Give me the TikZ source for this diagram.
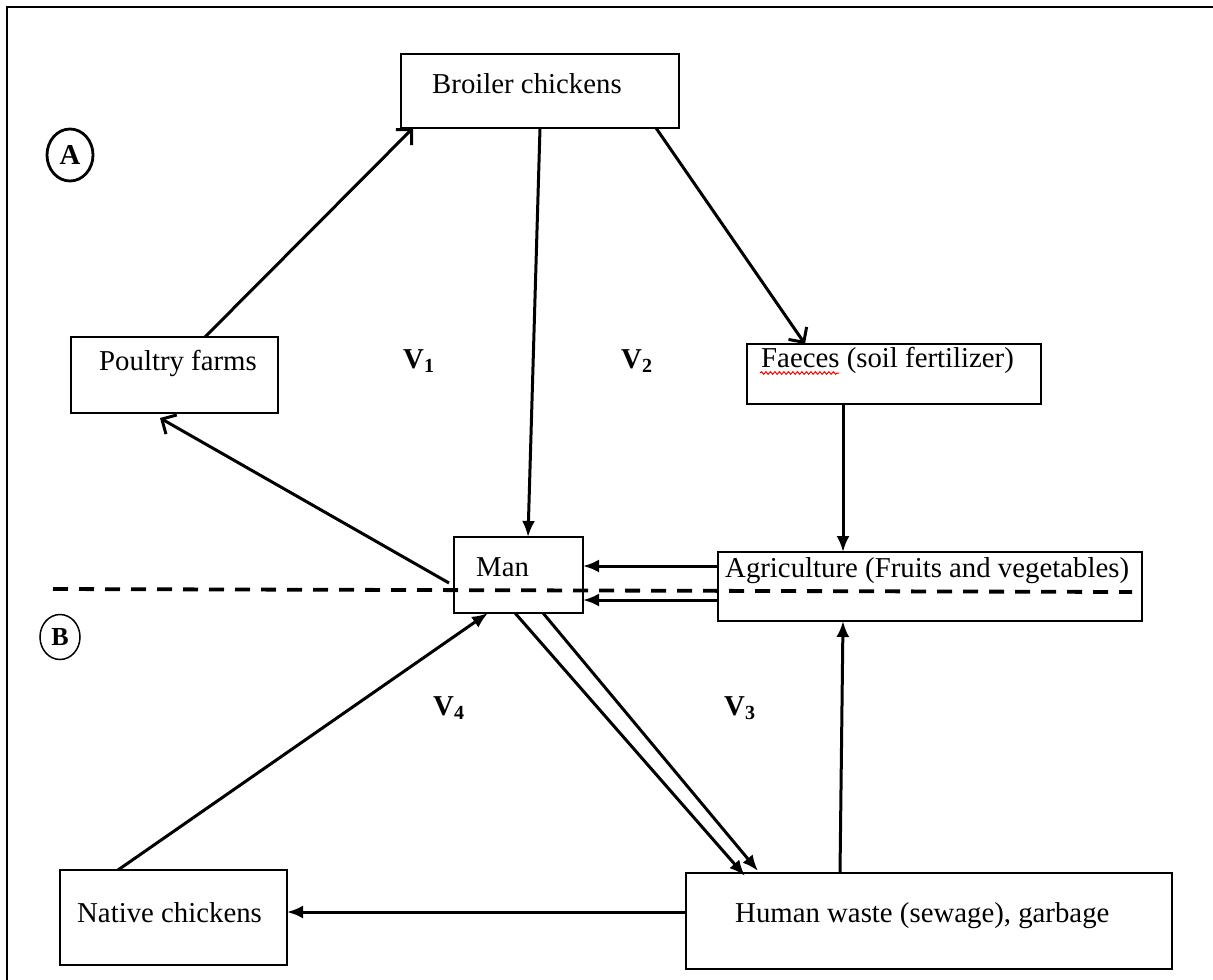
\documentclass[tikz,border=0pt]{standalone}
\usepackage{fontspec}
\setmainfont{Liberation Serif}
\usetikzlibrary{arrows.meta,decorations.pathmorphing,shapes.geometric}
\newcommand{\vsub}[2]{\textbf{#1}\raisebox{-4pt}{\fontsize{20}{20}\selectfont\bfseries #2}}
\begin{document}
\begin{tikzpicture}[x=1pt,y=-1pt,
  box/.style={draw, line width=1.9pt, inner sep=0pt, outer sep=0pt},
  txt/.style={anchor=base west, inner sep=0pt, font=\fontsize{28.8}{34}\selectfont},
  lab/.style={anchor=base west, inner sep=0pt, font=\fontsize{28.8}{34}\selectfont\bfseries},
  arr/.style={line width=3pt, -{Latex[length=16pt,width=13pt]}},
  oarr/.style={line width=3pt, -{Straight Barb[length=11pt,width=22pt,line width=3pt]}},
  circ/.style={ellipse, draw, inner sep=0pt}
]
\useasboundingbox (0,0) rectangle (1213,980);
% frame
\coordinate (f1) at (7,980);
\coordinate (f2) at (7,7);
\coordinate (f3) at (1213,7);
\draw[line width=2.5pt] (f1) -- (f2) -- (f3);

% boxes
\node[box, minimum width=278pt, minimum height=74pt] (broiler) at (540,91) {};
\node[box, minimum width=207pt, minimum height=76pt] (poultry) at (174.5,375) {};
\node[box, minimum width=294pt, minimum height=60pt] (faeces) at (894,374) {};
\node[box, minimum width=129pt, minimum height=76pt] (man) at (518.5,575) {};
\node[box, minimum width=424pt, minimum height=69pt] (agri) at (930,586.5) {};
\node[box, minimum width=227pt, minimum height=95pt] (native) at (173.5,917.5) {};
\node[box, minimum width=486pt, minimum height=96pt] (human) at (929,921) {};

% texts
\node[txt] (tbroiler) at (432,93) {Broiler chickens};
\node[txt] (tpoultry) at (99,370) {Poultry farms};
\node[txt] (tfaeces) at (761,367) {Faeces (soil fertilizer)};
\node[txt] (tman) at (476,576) {Man};
\node[txt] (tagri) at (725,577) {Agriculture (Fruits and vegetables)};
\node[txt] (tnative) at (77,922) {Native chickens};
\node[txt] (thuman) at (735,922) {Human waste (sewage), garbage};

% spell-check underline
\coordinate (w1) at (760,373);
\coordinate (w2) at (839,373);
\draw[red, line width=1pt, decorate, decoration={snake, amplitude=1.3pt, segment length=4.5pt}] (w1) -- (w2);

% V labels
\node[lab] (v1) at (403,368) {\vsub{V}{1}};
\node[lab] (v2) at (621,368) {\vsub{V}{2}};
\node[lab] (v4) at (433,715) {\vsub{V}{4}};
\node[lab] (v3) at (724,715) {\vsub{V}{3}};

% circled letters
\node[circ, line width=2.8pt, minimum width=46pt, minimum height=52pt, font=\fontsize{28.8}{34}\selectfont\bfseries] (A) at (70,155) {A};
\node[circ, line width=1.5pt, minimum width=40pt, minimum height=45pt, font=\fontsize{26}{30}\selectfont\bfseries] (B) at (60,637) {B};

% dashed divider
\coordinate (d1) at (53,589);
\coordinate (d2) at (1132,592);
\draw[line width=3.8pt, dash pattern=on 15pt off 11pt] (d1) -- (d2);

% connectors
\draw[oarr] ([xshift=30.5pt]poultry.north) -- ([xshift=-127pt]broiler.south);
\draw[arr] (broiler.south) -- ([xshift=9.5pt]man.north);
\draw[oarr] ([xshift=116pt]broiler.south) -- ([xshift=-89pt]faeces.north);
\draw[arr] ([xshift=-51pt]faeces.south) -- ([xshift=-87pt]agri.north);
\draw[arr] ([yshift=20.5pt]agri.west) -- ([yshift=9pt]man.east);
\draw[arr] ([yshift=-13.5pt]agri.west) -- ([yshift=-25pt]man.east);
\draw[oarr] ([xshift=-5pt,yshift=-8pt]man.west) -- ([xshift=-14.5pt,yshift=-5pt]poultry.south);
\draw[arr] ([xshift=-55.5pt]native.north) -- ([xshift=-30.5pt]man.south);
\draw[arr] ([xshift=-3.5pt]man.south) -- ([xshift=-184pt,yshift=-3pt]human.north);
\draw[arr] ([xshift=24.5pt]man.south) -- ([xshift=-171pt,yshift=2pt]human.north);
\draw[arr] ([xshift=-89pt]human.north) -- ([xshift=-87pt]agri.south);
\draw[arr] ([yshift=9pt]human.west) -- ([yshift=5.5pt]native.east);
\end{tikzpicture}
\end{document}
